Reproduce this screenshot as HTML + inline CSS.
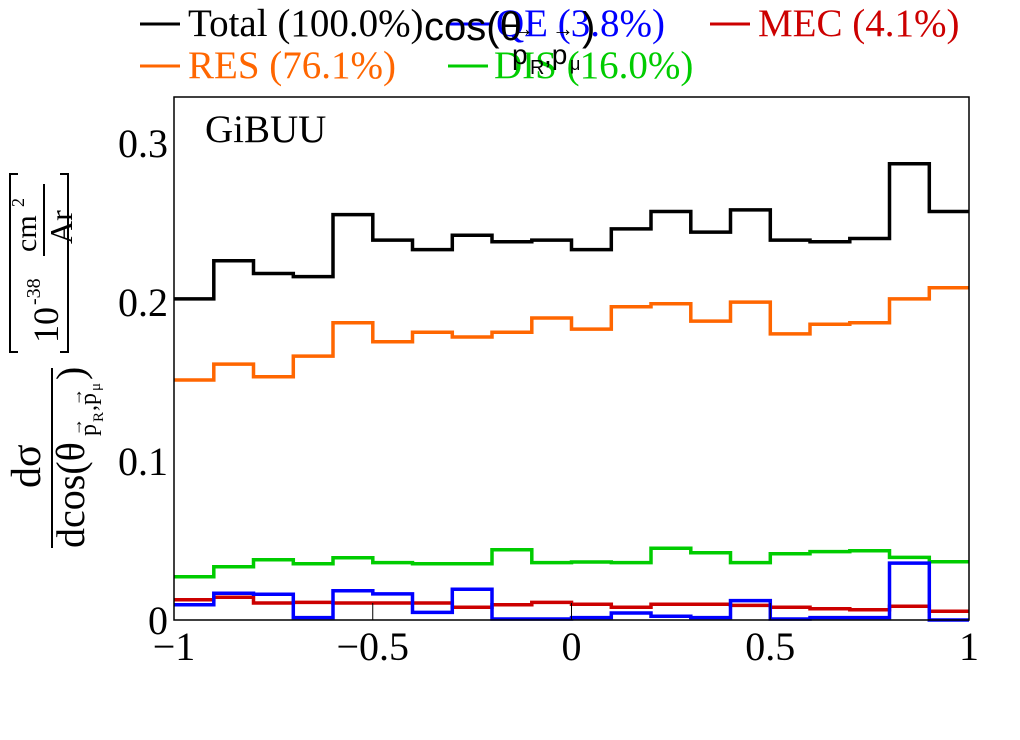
<!DOCTYPE html>
<html><head><meta charset="utf-8"><style>
html,body{margin:0;padding:0;background:#fff}
svg{display:block;font-family:"Liberation Serif",serif}
</style></head><body>
<svg id="chart" width="1020" height="740" viewBox="0 0 1020 740">
<rect x="0" y="0" width="1020" height="740" fill="#fff"/>
<g id="series"></g>
<rect x="174" y="97" width="795" height="523" fill="none" stroke="#000" stroke-width="1.5"/>
<g id="ticks"></g>
<text x="205" y="142" font-size="39">GiBUU</text>
<g font-size="39">
 <g><line x1="140" y1="24" x2="180" y2="24" stroke="#000" stroke-width="3"/><text x="188" y="36" fill="#000">Total (100.0%)</text></g>
 <g><line x1="450" y1="24" x2="490" y2="24" stroke="#0000ff" stroke-width="3"/><text x="496" y="36" fill="#0000ff">QE (3.8%)</text></g>
 <g><line x1="710" y1="24" x2="750" y2="24" stroke="#cc0000" stroke-width="3"/><text x="758" y="36" fill="#cc0000">MEC (4.1%)</text></g>
 <g><line x1="140" y1="66" x2="180" y2="66" stroke="#ff6600" stroke-width="3"/><text x="188" y="78" fill="#ff6600">RES (76.1%)</text></g>
 <g><line x1="448" y1="66" x2="488" y2="66" stroke="#00cc00" stroke-width="3"/><text x="494" y="78" fill="#00cc00">DIS (16.0%)</text></g>
</g>
<g font-family="Liberation Sans, sans-serif" fill="#000">
 <text x="424" y="40" font-size="40">cos(θ</text>
 <text x="512" y="64" font-size="28">p</text><text x="530" y="74" font-size="20">R</text><text x="544" y="64" font-size="28">,p</text><text x="570" y="70" font-size="18">μ</text>
 <text x="512" y="36" font-size="22">→</text><text x="552" y="36" font-size="22">→</text>
 <text x="582" y="40" font-size="40">)</text>
</g>
<g>
 <g transform="rotate(-90)">
  <text x="-488" y="40" font-size="42">dσ</text>
  <line x1="-548" y1="52" x2="-368" y2="52" stroke="#000" stroke-width="2"/>
  <text x="-548" y="84" font-size="40">dcos(θ</text>
  <text x="-436" y="96" font-size="24">p</text><text x="-422" y="103" font-size="15">R</text><text x="-411" y="96" font-size="24">,p</text><text x="-391" y="100" font-size="15">μ</text>
  <text x="-436" y="82" font-size="18">→</text><text x="-406" y="82" font-size="18">→</text>
  <text x="-380" y="84" font-size="40">)</text>
  <path d="M-352 60 L-352 68 L-174 68 L-174 60 M-352 18 L-352 10 L-174 10 L-174 18" fill="none" stroke="#000" stroke-width="2"/>
  <text x="-343" y="58" font-size="36">10</text>
  <text x="-305" y="40" font-size="20">-38</text>
  <text x="-252" y="36" font-size="30">cm</text><text x="-207" y="24" font-size="18">2</text>
  <line x1="-256" y1="44" x2="-184" y2="44" stroke="#000" stroke-width="2"/>
  <text x="-244" y="72" font-size="32">Ar</text>
 </g>
</g>
</svg>
<script>
const binEdgesMin = -1, binWidth = 0.1;
const xTicks = [-1, -0.5, 0, 0.5, 1];
const xTickLabels = ["\u22121", "\u22120.5", "0", "0.5", "1"];
const yTicks = [0, 0.1, 0.2, 0.3];
const yTickLabels = ["0", "0.1", "0.2", "0.3"];
const total = [0.202,0.226,0.218,0.216,0.255,0.239,0.233,0.242,0.238,0.239,0.233,0.246,0.257,0.244,0.258,0.239,0.238,0.240,0.287,0.257];
const res = [0.151,0.161,0.153,0.166,0.187,0.175,0.181,0.178,0.181,0.190,0.183,0.197,0.199,0.188,0.200,0.180,0.186,0.187,0.202,0.209];
const dis = [0.0272,0.0335,0.0379,0.0354,0.0392,0.0361,0.0354,0.0354,0.0442,0.0361,0.0365,0.0361,0.0451,0.0423,0.0361,0.0417,0.0430,0.0436,0.0394,0.0367];
const qe = [0.0096,0.0168,0.0162,0.0015,0.0184,0.0164,0.0048,0.0193,0.0006,0.0006,0.0015,0.0044,0.0023,0.0015,0.0122,0.0006,0.0015,0.0015,0.0358,0.0];
const mec = [0.0128,0.0143,0.0107,0.0111,0.0107,0.0107,0.0107,0.0080,0.0096,0.0111,0.0099,0.0080,0.0099,0.0099,0.0092,0.0080,0.0071,0.0065,0.0086,0.0055];
const X0=174, X1=969, Y0=620, Y1=97, XMIN=-1, XMAX=1, YMIN=0, YMAX=0.329;
function sx(v){return X0+(v-XMIN)/(XMAX-XMIN)*(X1-X0);}
function sy(v){return Y0-(v-YMIN)/(YMAX-YMIN)*(Y0-Y1);}
const NS="http://www.w3.org/2000/svg";
const sg=document.getElementById('series');
function hist(vals,color,name){
  let d="";
  vals.forEach((v,i)=>{
    const a=sx(binEdgesMin+i*binWidth), b=sx(binEdgesMin+(i+1)*binWidth), y=sy(v);
    d += (i===0?"M":"L")+a.toFixed(1)+" "+y.toFixed(1)+" L"+b.toFixed(1)+" "+y.toFixed(1)+" ";
  });
  const p=document.createElementNS(NS,'path');
  p.setAttribute('d',d);p.setAttribute('fill','none');p.setAttribute('stroke',color);p.setAttribute('stroke-width','3.5');
  
  
  sg.appendChild(p);
}
hist(dis,'#00cc00','dis-histogram');
hist(mec,'#cc0000','mec-histogram');
hist(qe,'#0000ff','qe-histogram');
hist(res,'#ff6600','res-histogram');
hist(total,'#000000','total-histogram');
const tg=document.getElementById('ticks');
function mk(tag,attrs){const e=document.createElementNS(NS,tag);for(const k in attrs)e.setAttribute(k,attrs[k]);tg.appendChild(e);return e;}
xTicks.forEach((v,i)=>{const x=sx(v);
  const l=mk('line',{x1:x,x2:x,y1:Y0,y2:Y0-17,stroke:'#000','stroke-width':1});
  
  
  const t=mk('text',{x:x,y:660,'font-size':40,'text-anchor':'middle'});t.textContent=xTickLabels[i];
  
  });
yTicks.forEach((v,i)=>{const t=mk('text',{x:168,y:sy(v)+14,'font-size':40,'text-anchor':'end'});t.textContent=yTickLabels[i];
  
  });
</script>
</body></html>
